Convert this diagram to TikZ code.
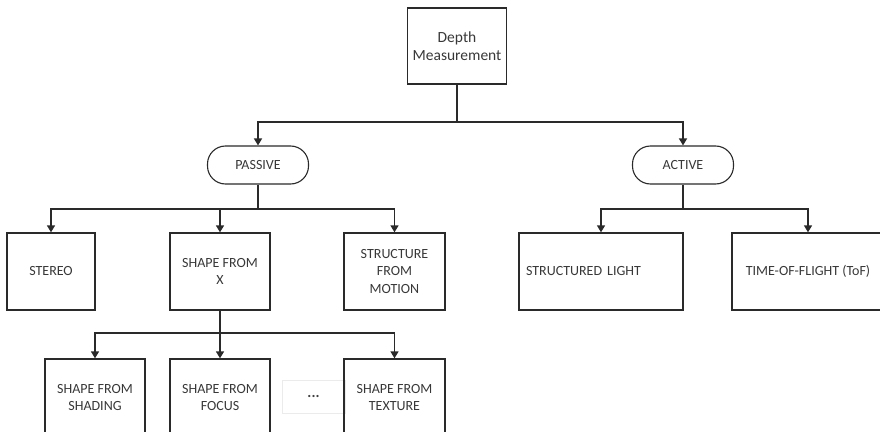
\documentclass[tikz,border=0pt]{standalone}
\usepackage{fontspec}
\setmainfont{Carlito}
\usetikzlibrary{arrows.meta}
\definecolor{linec}{HTML}{2A2A2A}
\definecolor{textc}{HTML}{383838}
\begin{document}
\begin{tikzpicture}[x=1pt,y=-1pt,
  every node/.style={font=\fontsize{14}{17.5}\selectfont, text=textc},
  box/.style={draw=linec, line width=1.3pt, minimum height=77pt, inner sep=2pt, align=center},
  pill/.style={draw=linec, line width=1.1pt, rounded corners=18pt, minimum width=101pt, minimum height=38pt},
  link/.style={draw=linec, line width=1.4pt},
  arr/.style={link, -{Triangle[length=7pt,width=8pt]}}]
\useasboundingbox (0,0) rectangle (880,433);
\clip (0,0) rectangle (880,431);
% top
\node[box, minimum width=99pt, minimum height=76pt, font=\fontsize{15.5}{17.5}\selectfont] (depth) at (457,46) {Depth\\Measurement};
\node[pill] (passive) at (258,165) {PASSIVE};
\node[pill] (active) at (683,165) {ACTIVE};
% level 2
\node[box, minimum width=88pt] (stereo) at (51,271.5) {STEREO};
\node[box, minimum width=100pt] (sfx) at (220,271.5) {SHAPE FROM\\X};
\node[box, minimum width=101pt] (sfm) at (394.5,271.5) {STRUCTURE\\FROM\\MOTION};
\node[box, minimum width=164pt, text width=150pt, align=left] (sl) at (601,271.5) {STRUCTURED\hspace{5pt}LIGHT};
\node[box, minimum width=152pt] (tof) at (808,271.5) {TIME-OF-FLIGHT (ToF)};
% level 3
\node[box, minimum width=100pt] (shading) at (95,397.5) {SHAPE FROM\\SHADING};
\node[box, minimum width=100pt] (focus) at (220,397.5) {SHAPE FROM\\FOCUS};
\node[draw=black!8, line width=0.8pt, minimum width=63pt, minimum height=33pt, font=\fontsize{15}{17}\selectfont\bfseries, text=black!75] (dots) at (313.5,396.5) {...};
\node[box, minimum width=101pt] (texture) at (394.5,397.5) {SHAPE FROM\\TEXTURE};
% junctions
\coordinate (j1) at (457,122);
\coordinate (j2) at (258,209);
\coordinate (j3) at (683,209);
\coordinate (j4) at (220,333);
% connectors
\draw[link] (depth) -- (j1);
\draw[arr] (j1) -| (passive);
\draw[arr] (j1) -| (active);
\draw[link] (passive) -- (j2);
\draw[arr] (j2) -| (stereo);
\draw[arr] (j2) -| (sfx);
\draw[arr] (j2) -| (sfm);
\draw[link] (active) -- (j3);
\draw[arr] (j3) -| (sl);
\draw[arr] (j3) -| (tof);
\draw[link] (sfx) -- (j4);
\draw[arr] (j4) -| (shading);
\draw[arr] (j4) -- (focus);
\draw[arr] (j4) -| (texture);
\end{tikzpicture}
\end{document}
